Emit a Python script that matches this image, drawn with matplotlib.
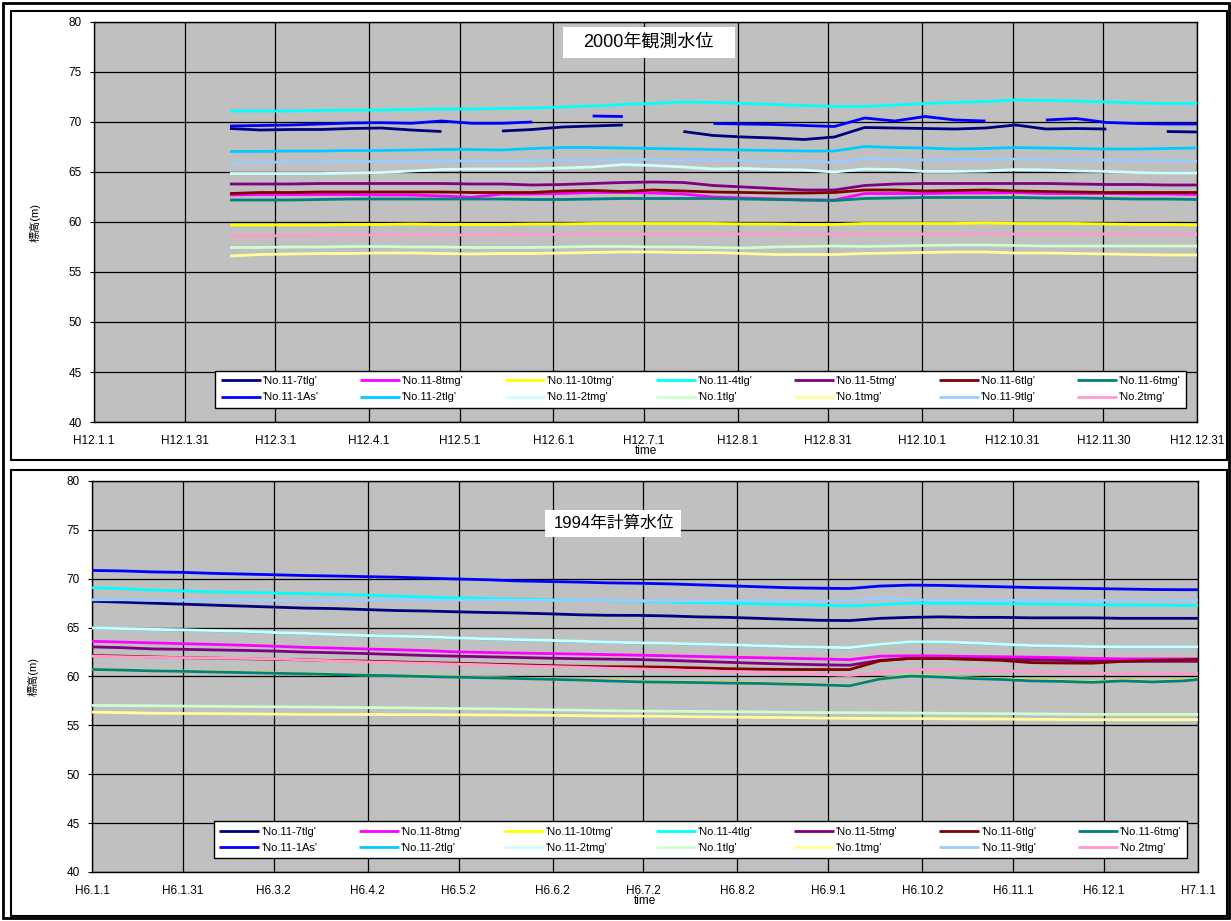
import numpy as np
import matplotlib
matplotlib.use('Agg')
import matplotlib.pyplot as plt
from matplotlib.patches import Rectangle

plt.rcParams['font.family'] = ['Liberation Sans', 'Noto Sans CJK JP']

nan = np.nan

# series names, colours, drawing order (later = on top)
names = ['No.11-7tlg', 'No.11-8tmg', 'No.11-10tmg', 'No.11-4tlg', 'No.11-5tmg',
         'No.11-6tlg', 'No.11-6tmg', 'No.11-1As', 'No.11-2tlg', 'No.11-2tmg',
         'No.1tlg', 'No.1tmg', 'No.11-9tlg', 'No.2tmg']
colors = ['#000080', '#FF00FF', '#FFFF00', '#00FFFF', '#800080',
          '#800000', '#008080', '#0000FF', '#00CCFF', '#CCFFFF',
          '#CCFFCC', '#FFFF99', '#99CCFF', '#FF99CC']
# legend order (2 rows x 7 columns, filled column by column)
legend_order = ['No.11-7tlg', 'No.11-1As', 'No.11-8tmg', 'No.11-2tlg',
                'No.11-10tmg', 'No.11-2tmg', 'No.11-4tlg', 'No.1tlg',
                'No.11-5tmg', 'No.1tmg', 'No.11-6tlg', 'No.11-9tlg',
                'No.11-6tmg', 'No.2tmg']

tick_days = [0, 30, 60, 91, 121, 152, 182, 213, 243, 274, 304, 334, 365]
ticks_2000 = ['H12.1.1', 'H12.1.31', 'H12.3.1', 'H12.4.1', 'H12.5.1', 'H12.6.1',
              'H12.7.1', 'H12.8.1', 'H12.8.31', 'H12.10.1', 'H12.10.31',
              'H12.11.30', 'H12.12.31']
ticks_1994 = ['H6.1.1', 'H6.1.31', 'H6.3.2', 'H6.4.2', 'H6.5.2', 'H6.6.2',
              'H6.7.2', 'H6.8.2', 'H6.9.1', 'H6.10.2', 'H6.11.1', 'H6.12.1',
              'H7.1.1']

# ---- 2000 observed water levels (day of year) ----
days_2000 = [45, 55, 65, 75, 85, 95, 105, 115, 125, 135, 145, 155, 165, 175, 185,
             195, 205, 215, 225, 235, 245, 255, 265, 275, 285, 295, 305, 315,
             325, 335, 345, 355, 365]
obs_7tlg = [69.35, 69.2, 69.25, 69.25, 69.35, 69.4, 69.2, 69.05, nan, 69.1,
            69.25, 69.5, 69.6, 69.7, nan, 69.05, 68.65, 68.5, 68.4, 68.25,
            68.5, 69.45, 69.4, 69.35, 69.3, 69.4, 69.7, 69.3, 69.35, 69.3,
            nan, 69.05, 69.0]
obs_8tmg = [62.7, 62.75, 62.75, 62.75, 62.75, 62.7, 62.7, 62.6, 62.47, 62.8,
            62.8, 62.85, 62.95, 62.95, 62.9, 62.8, 62.5, 62.4, 62.3, 62.2,
            62.2, 62.85, 62.85, 62.85, 62.9, 62.9, 62.95, 62.85, 62.85, 62.85,
            62.8, 62.8, 62.75]
obs_10tmg = [59.7, 59.7, 59.7, 59.7, 59.75, 59.75, 59.8, 59.75, 59.75, 59.75,
             59.8, 59.8, 59.85, 59.85, 59.85, 59.85, 59.85, 59.8, 59.8, 59.75,
             59.75, 59.85, 59.85, 59.85, 59.85, 59.9, 59.85, 59.85, 59.85, 59.8,
             59.75, 59.75, 59.7]
obs_4tlg = [71.1, 71.1, 71.1, 71.15, 71.2, 71.2, 71.25, 71.3, 71.3, 71.35,
            71.4, 71.5, 71.6, 71.75, 71.85, 72.0, 71.95, 71.85, 71.75, 71.65,
            71.55, 71.55, 71.7, 71.85, 71.95, 72.05, 72.2, 72.15, 72.1, 72.0,
            71.9, 71.85, 71.85]
obs_5tmg = [63.8, 63.8, 63.8, 63.85, 63.85, 63.85, 63.85, 63.85, 63.8, 63.8,
            63.7, 63.75, 63.85, 63.95, 64.0, 63.95, 63.65, 63.5, 63.35, 63.2,
            63.2, 63.65, 63.8, 63.85, 63.85, 63.85, 63.85, 63.85, 63.8, 63.75,
            63.75, 63.7, 63.7]
obs_6tlg = [62.85, 62.95, 62.95, 63.0, 63.0, 63.0, 63.0, 63.0, 62.95, 62.95,
            62.95, 63.1, 63.15, 63.05, 63.2, 63.1, 63.0, 62.95, 62.9, 62.9,
            62.95, 63.2, 63.2, 63.1, 63.15, 63.2, 63.1, 63.05, 63.0, 62.95,
            62.95, 62.95, 62.95]
obs_6tmg = [62.2, 62.2, 62.2, 62.25, 62.3, 62.3, 62.3, 62.3, 62.3, 62.3,
            62.25, 62.25, 62.3, 62.35, 62.35, 62.35, 62.35, 62.3, 62.25, 62.2,
            62.15, 62.35, 62.4, 62.45, 62.45, 62.45, 62.45, 62.4, 62.4, 62.35,
            62.3, 62.3, 62.25]
obs_1As = [69.6, 69.65, 69.7, 69.8, 69.9, 69.93, 69.87, 70.1, 69.87, 69.87,
           70.0, nan, 70.6, 70.55, nan, nan, 69.85, 69.8, 69.75, 69.65,
           69.55, 70.4, 70.1, 70.55, 70.2, 70.1, nan, 70.2, 70.35, 69.95,
           69.85, 69.8, 69.8]
obs_2tlg = [67.05, 67.05, 67.1, 67.1, 67.15, 67.15, 67.2, 67.25, 67.25, 67.2,
            67.35, 67.45, 67.45, 67.4, 67.35, 67.3, 67.25, 67.2, 67.15, 67.1,
            67.1, 67.55, 67.45, 67.4, 67.3, 67.35, 67.45, 67.4, 67.35, 67.3,
            67.3, 67.35, 67.4]
obs_11_2tmg = [64.85, 64.85, 64.85, 64.85, 64.9, 64.95, 65.1, 65.25, 65.3, 65.3,
               65.3, 65.4, 65.5, 65.75, 65.65, 65.5, 65.3, 65.35, 65.25, 65.2,
               65.0, 65.3, 65.25, 65.05, 65.05, 65.1, 65.25, 65.2, 65.1, 65.05,
               64.95, 64.9, 64.9]
obs_1tlg = [57.45, 57.45, 57.5, 57.5, 57.55, 57.55, 57.5, 57.5, 57.45, 57.45,
            57.45, 57.5, 57.55, 57.55, 57.5, 57.5, 57.45, 57.4, 57.5, 57.55,
            57.6, 57.55, 57.6, 57.65, 57.7, 57.7, 57.65, 57.6, 57.6, 57.6,
            57.6, 57.6, 57.6]
obs_1tmg = [56.6, 56.75, 56.8, 56.85, 56.85, 56.9, 56.9, 56.85, 56.8, 56.85,
            56.85, 56.9, 56.95, 57.0, 57.0, 56.95, 56.95, 56.85, 56.75, 56.75,
            56.75, 56.85, 56.9, 56.95, 57.0, 57.0, 56.9, 56.9, 56.85, 56.8,
            56.75, 56.7, 56.7]
obs_9tlg = [65.8, 65.95, 66.0, 66.0, 66.05, 66.05, 66.05, 66.1, 66.1, 66.1,
            66.15, 66.2, 66.2, 66.25, 66.25, 66.2, 66.2, 66.15, 66.05, 66.0,
            65.95, 66.35, 66.25, 66.2, 66.25, 66.25, 66.3, 66.25, 66.2, 66.2,
            66.15, 66.15, 66.1]
obs_2tmg = [58.6, 58.6, 58.65, 58.7, 58.7, 58.7, 58.7, 58.7, 58.7, 58.75,
            58.75, 58.75, 58.8, 58.8, 58.8, 58.75, 58.8, 58.8, 58.8, 58.8,
            58.8, 58.8, 58.8, 58.8, 58.8, 58.85, 58.8, 58.8, 58.8, 58.8,
            58.8, 58.8, 58.8]

# ---- 1994 calculated water levels (day of year) ----
days_1994 = [0, 10, 20, 30, 40, 50, 60, 70, 80, 90, 100, 110, 120, 130, 140,
             150, 160, 170, 180, 190, 200, 210, 220, 230, 240, 250, 260, 270,
             280, 290, 300, 310, 320, 330, 340, 350, 360, 365]
calc_7tlg = [67.7, 67.6, 67.5, 67.4, 67.3, 67.2, 67.1, 67.0, 66.95, 66.85,
             66.75, 66.7, 66.62, 66.55, 66.5, 66.42, 66.32, 66.26, 66.25, 66.2,
             66.1, 66.05, 65.95, 65.85, 65.75, 65.72, 65.95, 66.05, 66.1, 66.05,
             66.05, 66.0, 66.0, 66.0, 65.95, 65.95, 65.95, 65.95]
calc_8tmg = [63.6, 63.52, 63.44, 63.36, 63.28, 63.2, 63.1, 62.98, 62.9, 62.82,
             62.74, 62.65, 62.52, 62.46, 62.4, 62.35, 62.3, 62.24, 62.18, 62.12,
             62.05, 61.98, 61.92, 61.86, 61.8, 61.72, 62.08, 62.12, 62.1, 62.05,
             62.02, 61.98, 61.92, 61.86, 61.8, 61.8, 61.8, 61.8]
calc_10tmg = [60.7, 60.62, 60.6, 60.55, 60.48, 60.42, 60.35, 60.3, 60.22, 60.15,
              60.1, 60.03, 59.95, 59.9, 59.82, 59.75, 59.67, 59.58, 59.5, 59.45,
              59.42, 59.38, 59.32, 59.26, 59.18, 59.08, 59.8, 60.1, 60.0, 59.85,
              59.75, 59.6, 59.55, 59.45, 59.6, 59.5, 59.6, 59.75]
calc_4tlg = [69.08, 68.98, 68.85, 68.75, 68.65, 68.6, 68.54, 68.47, 68.4, 68.33,
             68.23, 68.13, 68.04, 67.98, 67.92, 67.86, 67.8, 67.75, 67.69, 67.63,
             67.57, 67.5, 67.43, 67.37, 67.3, 67.22, 67.35, 67.5, 67.5, 67.48,
             67.45, 67.42, 67.38, 67.34, 67.32, 67.3, 67.28, 67.28]
calc_5tmg = [63.03, 62.95, 62.82, 62.78, 62.72, 62.67, 62.6, 62.5, 62.43, 62.35,
             62.25, 62.15, 62.08, 62.02, 61.95, 61.88, 61.82, 61.78, 61.74, 61.65,
             61.55, 61.45, 61.35, 61.27, 61.2, 61.15, 61.65, 61.85, 61.85, 61.8,
             61.75, 61.72, 61.65, 61.58, 61.55, 61.55, 61.55, 61.55]
calc_6tlg = [62.14, 62.08, 62.0, 61.92, 61.88, 61.82, 61.76, 61.7, 61.63, 61.57,
             61.5, 61.42, 61.36, 61.28, 61.2, 61.12, 61.05, 61.0, 60.99, 60.95,
             60.88, 60.8, 60.75, 60.72, 60.71, 60.71, 61.6, 61.85, 61.85, 61.75,
             61.65, 61.42, 61.38, 61.36, 61.55, 61.65, 61.7, 61.75]
calc_6tmg = [60.72, 60.65, 60.58, 60.53, 60.46, 60.4, 60.33, 60.28, 60.2, 60.13,
             60.08, 60.0, 59.93, 59.87, 59.8, 59.72, 59.65, 59.55, 59.46, 59.42,
             59.38, 59.33, 59.29, 59.22, 59.15, 59.05, 59.75, 60.05, 59.95, 59.8,
             59.7, 59.55, 59.5, 59.4, 59.55, 59.45, 59.55, 59.7]
calc_1As = [70.85, 70.8, 70.7, 70.65, 70.55, 70.48, 70.41, 70.33, 70.28, 70.22,
            70.16, 70.07, 69.98, 69.9, 69.78, 69.72, 69.66, 69.58, 69.54, 69.48,
            69.38, 69.28, 69.18, 69.08, 69.03, 69.0, 69.25, 69.35, 69.32, 69.25,
            69.18, 69.1, 69.05, 69.0, 68.95, 68.9, 68.88, 68.88]
calc_2tlg = [64.95, 64.88, 64.8, 64.75, 64.68, 64.6, 64.48, 64.4, 64.28, 64.17,
             64.1, 64.05, 63.93, 63.84, 63.76, 63.68, 63.6, 63.5, 63.43, 63.38,
             63.3, 63.23, 63.13, 63.04, 62.98, 62.93, 63.28, 63.53, 63.53, 63.43,
             63.28, 63.15, 63.1, 63.04, 63.01, 63.01, 63.01, 63.01]
calc_11_2tmg = [64.97, 64.9, 64.82, 64.77, 64.7, 64.63, 64.5, 64.42, 64.3, 64.19,
                64.12, 64.07, 63.95, 63.86, 63.78, 63.7, 63.62, 63.52, 63.45, 63.4,
                63.32, 63.25, 63.15, 63.06, 63.0, 62.95, 63.3, 63.55, 63.55, 63.45,
                63.3, 63.17, 63.12, 63.06, 63.03, 63.03, 63.03, 63.03]
calc_1tlg = [57.04, 57.02, 57.0, 56.97, 56.95, 56.92, 56.9, 56.88, 56.85, 56.82,
             56.8, 56.76, 56.72, 56.7, 56.66, 56.6, 56.56, 56.5, 56.46, 56.45,
             56.42, 56.4, 56.38, 56.34, 56.3, 56.3, 56.28, 56.26, 56.24, 56.22,
             56.2, 56.18, 56.15, 56.12, 56.12, 56.12, 56.12, 56.12]
calc_1tmg = [56.36, 56.3, 56.24, 56.22, 56.2, 56.18, 56.15, 56.12, 56.12, 56.12,
             56.1, 56.1, 56.08, 56.07, 56.05, 56.03, 56.0, 55.96, 55.95, 55.93,
             55.88, 55.85, 55.82, 55.8, 55.75, 55.72, 55.7, 55.7, 55.68, 55.66,
             55.65, 55.62, 55.6, 55.58, 55.58, 55.58, 55.58, 55.58]
calc_9tlg = [67.85, 67.85, 67.8, 67.8, 67.8, 67.8, 67.8, 67.8, 67.8, 67.8,
             67.8, 67.8, 67.8, 67.8, 67.8, 67.78, 67.78, 67.78, 67.75, 67.75,
             67.75, 67.75, 67.75, 67.72, 67.72, 67.75, 68.1, 67.85, 67.8, 67.8,
             67.8, 67.8, 67.8, 67.8, 67.8, 67.8, 67.82, 67.82]
calc_2tmg = [62.08, 62.02, 61.96, 61.92, 61.88, 61.85, 61.8, 61.7, 61.6, 61.5,
             61.42, 61.35, 61.27, 61.2, 61.1, 61.02, 60.95, 60.85, 60.78, 60.7,
             60.6, 60.5, 60.42, 60.33, 60.22, 60.1, 60.4, 60.7, 60.7, 60.62,
             60.58, 60.5, 60.42, 60.35, 60.31, 60.31, 60.31, 60.31]

obs_series = [obs_7tlg, obs_8tmg, obs_10tmg, obs_4tlg, obs_5tmg, obs_6tlg, obs_6tmg,
              obs_1As, obs_2tlg, obs_11_2tmg, obs_1tlg, obs_1tmg, obs_9tlg, obs_2tmg]
calc_series = [calc_7tlg, calc_8tmg, calc_10tmg, calc_4tlg, calc_5tmg, calc_6tlg,
               calc_6tmg, calc_1As, calc_2tlg, calc_11_2tmg, calc_1tlg, calc_1tmg,
               calc_9tlg, calc_2tmg]

W, H = 1231, 921
fig = plt.figure(figsize=(W / 100, H / 100), dpi=100)


def px_box(x0, y0, x1, y1, lw):
    # rectangle given in pixel coords of the picture (top-left origin)
    fig.add_artist(Rectangle((x0 / W, 1 - y1 / H), (x1 - x0) / W, (y1 - y0) / H,
                             transform=fig.transFigure, fill=False,
                             edgecolor='black', lw=lw))


def draw_panel(ax, days, series, ticklabels, title, tbox, tsize):
    ax.set_facecolor('#C0C0C0')
    lines = {}
    for name, col, vals in zip(names, colors, series):
        ln, = ax.plot(days, vals, color=col, lw=2.0, label="'" + name + "'",
                      solid_capstyle='butt', zorder=3)
        lines[name] = ln
    ax.set_xlim(0, 365)
    ax.set_ylim(40, 80)
    ax.set_yticks(range(40, 81, 5))
    ax.set_xticks(tick_days)
    ax.set_xticklabels(ticklabels)
    ax.grid(True, color='black', lw=0.9)
    ax.set_axisbelow(True)
    for sp in ax.spines.values():
        sp.set_color('black')
        sp.set_linewidth(1)
    ax.tick_params(axis='y', length=3, pad=6, labelsize=8.5)
    ax.tick_params(axis='x', length=0, pad=9, labelsize=8.5)
    ax.set_ylabel('標高(m)', fontsize=8, labelpad=20)
    ax.set_xlabel('time', fontsize=8.5, labelpad=-1)

    # title in a white box
    x0, y0, x1, y1 = tbox
    ax.add_patch(Rectangle((x0, y0), x1 - x0, y1 - y0, transform=ax.transAxes,
                           facecolor='white', edgecolor='none', zorder=5))
    ax.text((x0 + x1) / 2, (y0 + y1) / 2, title, transform=ax.transAxes,
            ha='center', va='center', fontsize=tsize, zorder=6)

    handles = [lines[n] for n in legend_order]
    leg = ax.legend(handles, ["'" + n + "'" for n in legend_order], ncol=7,
                    loc='lower left', bbox_to_anchor=(0.11, 0.035, 0.88, 0.1),
                    mode='expand', fontsize=8, frameon=True, fancybox=False,
                    edgecolor='black', framealpha=1, handlelength=3.6,
                    handletextpad=0.15, borderpad=0.5, labelspacing=0.55,
                    borderaxespad=0)
    leg.get_frame().set_linewidth(1)
    leg.set_zorder(7)


ax1 = fig.add_axes([94 / W, 1 - 422 / H, (1197 - 94) / W, 400 / H])
draw_panel(ax1, days_2000, obs_series, ticks_2000, '2000年観測水位',
           (0.425, 0.91, 0.581, 0.9875), 13)

ax2 = fig.add_axes([92 / W, 1 - 872 / H, (1198 - 92) / W, 391 / H])
draw_panel(ax2, days_1994, calc_series, ticks_1994, '1994年計算水位',
           (0.41, 0.856, 0.533, 0.926), 12)

# panel frames and outer border
px_box(3, 3, 1229, 918, 2)
px_box(11, 11, 1227, 460, 1.5)
px_box(11, 470, 1227, 916, 1.5)

fig.savefig('out.png', dpi=100)
